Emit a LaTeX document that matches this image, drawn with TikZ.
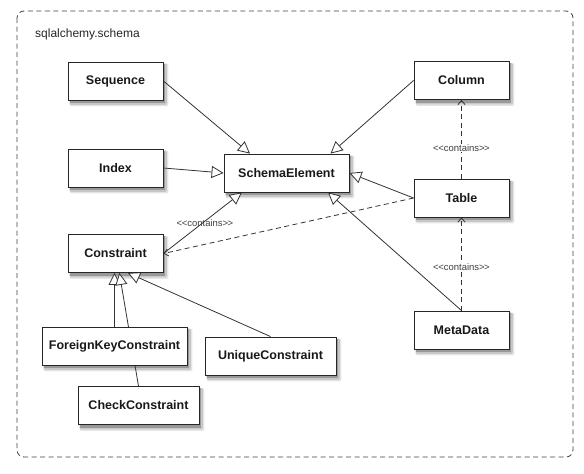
\documentclass[tikz,border=0pt]{standalone}
\usepackage{fontspec}
\setmainfont{Liberation Sans}
\usetikzlibrary{arrows.meta,calc}
\pgfdeclarelayer{shd}
\pgfdeclarelayer{bg}
\pgfsetlayers{shd,bg,main}
\newcommand{\contains}{\textless\kern-0.5pt\textless contains\textgreater\kern-0.5pt\textgreater}
\begin{document}
\begin{tikzpicture}[x=1pt,y=-1pt,
  cls/.style={draw=black!85, line width=0.9pt, fill=white, text=black!90,
    font=\bfseries\fontsize{12.5}{14}\selectfont, minimum height=38pt, inner sep=0pt},
  gen/.style={draw=black!80, line width=0.8pt, -{Triangle[open, length=12pt, width=12pt, fill=white]}},
  dep/.style={draw=black!80, line width=0.8pt, dash pattern=on 5pt off 3.5pt, -{Straight Barb[length=4pt, width=7pt]}},
  lbl/.style={font=\fontsize{9.5}{11}\selectfont, text=black!75, inner sep=1pt}]
\useasboundingbox (0,0) rectangle (584,474);
\draw[black!75, line width=0.8pt, dash pattern=on 5pt off 3.5pt, rounded corners=7pt] (17,11) rectangle (573,457);
\node[anchor=west, font=\fontsize{12}{14}\selectfont, text=black!85, inner sep=0pt] (title) at (35,34) {sqlalchemy.schema};

\node[cls, minimum width=95pt] (seq) at (115.5,81) {Sequence};
\node[cls, minimum width=95pt] (idx) at (115.5,168) {Index};
\node[cls, minimum width=125pt] (se) at (286.5,173) {SchemaElement};
\node[cls, minimum width=95pt] (col) at (461.5,80.5) {Column};
\node[cls, minimum width=95pt] (tbl) at (461.5,198) {Table};
\node[cls, minimum width=95pt] (con) at (115.5,253.5) {Constraint};
\node[cls, minimum width=145pt] (fkc) at (114.5,346) {ForeignKeyConstraint};
\node[cls, minimum width=121pt] (chk) at (138.5,405.5) {CheckConstraint};
\node[cls, minimum width=131pt] (unq) at (270.5,356) {UniqueConstraint};
\node[cls, minimum width=95pt] (md) at (461.5,330) {MetaData};

\begin{pgfonlayer}{shd}
\foreach \n in {seq,idx,se,col,tbl,con,fkc,chk,unq,md} {
  \fill[black!10, rounded corners=2pt] ($(\n.north west)+(2,2)$) rectangle ($(\n.south east)+(5,6)$);
  \fill[black!22, rounded corners=1.5pt] ($(\n.north west)+(2,2)$) rectangle ($(\n.south east)+(3.5,4.5)$);
  \fill[black!40] ($(\n.north west)+(2,2)$) rectangle ($(\n.south east)+(2,3)$);
}
\end{pgfonlayer}

\begin{pgfonlayer}{bg}
% generalisations
\draw[gen] (seq.east) -- ($(se.north west)!0.21!(se.north east)$);
\draw[gen] (idx.east) -- (se.west);
\draw[gen] (col.west) -- ($(se.north west)!0.85!(se.north east)$);
\draw[gen] (tbl.west) -- (se.east);
\draw[gen] (md.north) -- ($(se.south west)!0.83!(se.south east)$);
\draw[gen] (con.east) -- ($(se.south west)!0.145!(se.south east)$);
\draw[gen] (fkc.north) -- (fkc.north |- con.south);
\draw[gen] ($(chk.north west)!0.5!(chk.north east)$) -- ($(con.south west)!0.54!(con.south east)$);
\draw[gen] (unq.north) -- ($(con.south west)!0.63!(con.south east)$);
% dependencies
\draw[dep] (tbl.west) -- (con.east);
\draw[dep] (tbl.north) -- (col.south);
\draw[dep] (md.north) -- (tbl.south);
\end{pgfonlayer}

\node[lbl] (l1) at (205,223) {\contains};
\node[lbl, fill=white] (l2) at (461.5,148) {\contains};
\node[lbl, fill=white] (l3) at (461.5,267) {\contains};
\end{tikzpicture}
\end{document}
